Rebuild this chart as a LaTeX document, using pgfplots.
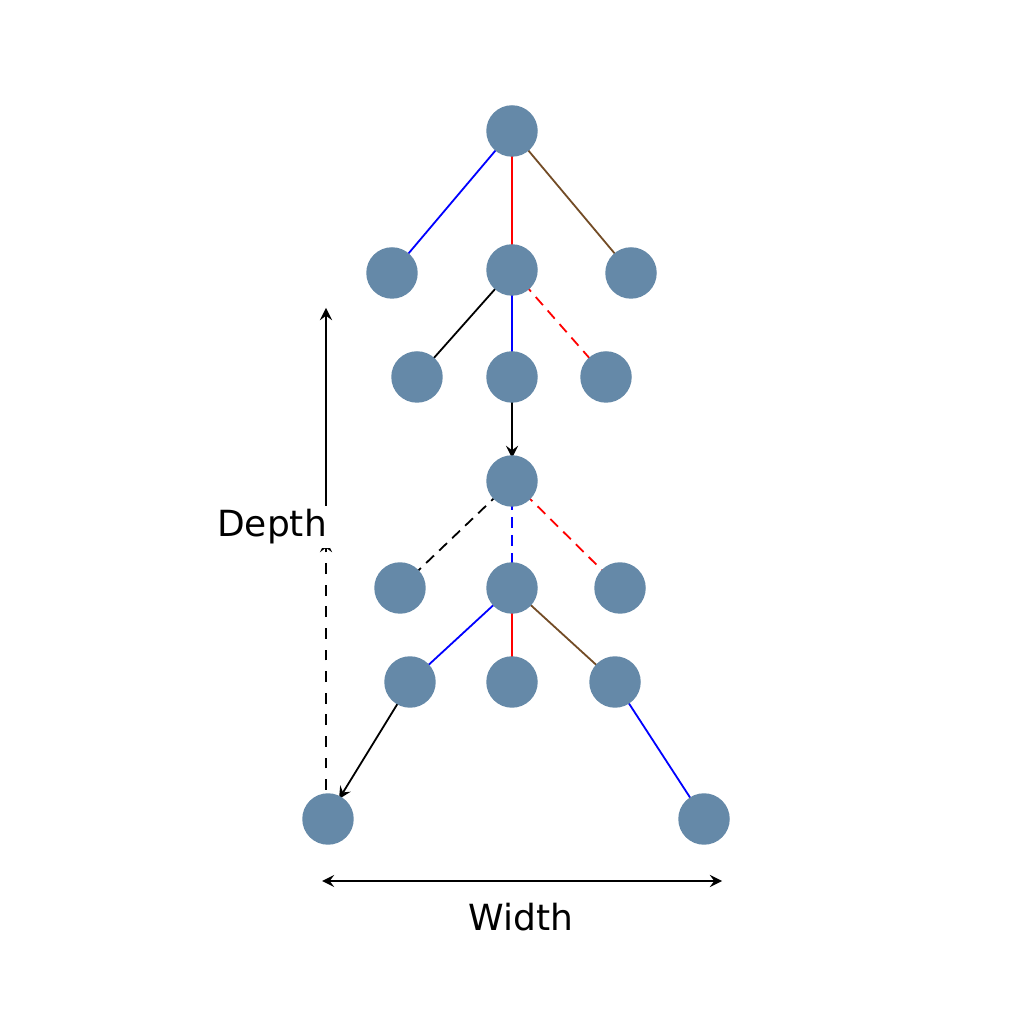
\documentclass[border=0pt]{standalone}
\usepackage{pgfplots}
\pgfplotsset{compat=1.18}
\usepackage{fontspec}
\setmainfont{DejaVu Sans}
\definecolor{nodec}{HTML}{6589A8}
\begin{document}
\begin{tikzpicture}
\begin{axis}[width=10cm,height=10cm,scale only axis,hide axis,
  xmin=0,xmax=1024,ymin=-1024,ymax=0,clip=false]
\fill[white] (axis cs:0,-1024) rectangle (axis cs:1024,0);
% edges
\pgfplotsset{every axis plot/.append style={black,line width=0.5pt,no marks}}
\addplot coordinates {(512,-131) (392,-273)};
\addplot coordinates {(512,-131) (512,-270)};
\addplot coordinates {(512,-131) (631,-273)};
\addplot coordinates {(512,-270) (417,-377)};
\addplot coordinates {(512,-270) (512,-377)};
\addplot coordinates {(512,-270) (606,-377)};
\addplot[-stealth] coordinates {(512,-400) (512,-458)};
\addplot coordinates {(512,-481) (400,-588)};
\addplot coordinates {(512,-481) (512,-588)};
\addplot coordinates {(512,-481) (620,-588)};
\addplot coordinates {(512,-588) (410,-682)};
\addplot coordinates {(512,-588) (512,-682)};
\addplot coordinates {(512,-588) (615,-682)};
\addplot[-stealth] coordinates {(398,-703) (339,-799)};
\addplot coordinates {(615,-682) (704,-819)};
% depth
\addplot[dashed,-stealth] coordinates {(326,-790) (326,-540)};
\addplot[-stealth] coordinates {(326,-520) (326,-308)};
\addplot[dashed] coordinates {(326,-450) (326,-308)};
% width
\addplot[stealth-stealth] coordinates {(322,-881) (722,-881)};
% nodes
\addplot[only marks,mark=*,mark size=6.9pt,draw=none,fill=nodec,mark options={draw=nodec,fill=nodec}] coordinates {
(512,-131) (392,-273) (512,-270) (631,-273)
(417,-377) (512,-377) (606,-377) (512,-481)
(400,-588) (512,-588) (620,-588)
(410,-682) (512,-682) (615,-682)
(328,-819) (704,-819)};
\node[font=\fontsize{10}{12}\selectfont,fill=white,inner sep=1pt] at (axis cs:272,-527) {Depth};
\node[font=\fontsize{10}{12}\selectfont] at (axis cs:521,-917) {Width};
\end{axis}
\end{tikzpicture}
\end{document}
